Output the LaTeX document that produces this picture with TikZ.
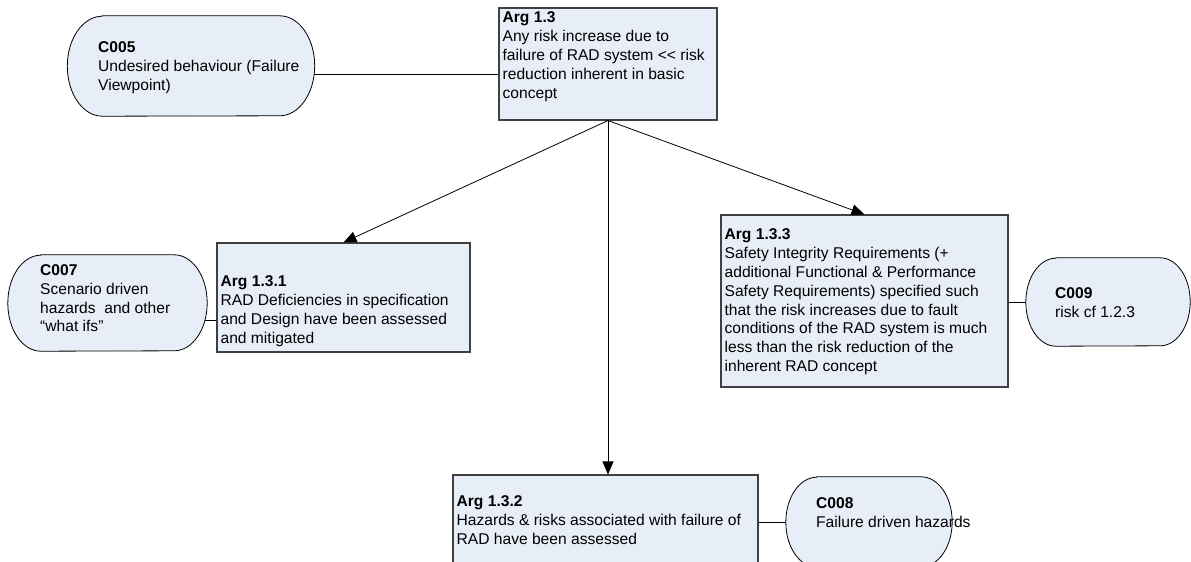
\documentclass[tikz,border=0pt]{standalone}
\usepackage{fontspec}
\setmainfont{Liberation Sans}
\usetikzlibrary{arrows.meta,calc}
\definecolor{gsnfill}{RGB}{232,238,247}
\definecolor{gsnedge}{RGB}{64,64,64}
% outline of a context node: straight top and bottom, half-ellipse ends
% #1 node name, #2 horizontal radius of the ends, #3 half height
\newcommand\ctxoutline[3]{%
  \draw[ctxline] ($(#1.north west)+(#2,0)$) -- ($(#1.north east)+(-#2,0)$)
    arc[start angle=-90, end angle=90, x radius=#2, y radius=#3]
    -- ($(#1.south west)+(#2,0)$)
    arc[start angle=90, end angle=270, x radius=#2, y radius=#3] -- cycle;}
\begin{document}
\begin{tikzpicture}[x=1pt,y=-1pt,
  argbox/.style={draw=gsnedge, fill=gsnfill, line width=1.1pt, rectangle, inner sep=0pt},
  ctxbox/.style={rectangle, inner sep=0pt},
  ctxline/.style={draw=black, fill=gsnfill, line width=0.8pt},
  gsntext/.style={anchor=north west, align=left, inner sep=0pt,
                  font=\fontsize{15.6}{18.8}\selectfont},
  link/.style={draw=black, line width=0.8pt},
  support/.style={link, -{Triangle[length=13pt,width=11pt]}}]
\useasboundingbox (0,0) rectangle (1191,562);
\clip (0,0) rectangle (1191,562);
\fill[white] (0,0) rectangle (1191,562);

% argument nodes
\node[argbox, minimum width=218pt, minimum height=112pt] (arg13) at (608,64) {};
\node[argbox, minimum width=253pt, minimum height=109pt] (arg131) at (343.5,297.5) {};
\node[argbox, minimum width=287pt, minimum height=172pt] (arg133) at (864.5,301) {};
\node[argbox, minimum width=305pt, minimum height=115pt] (arg132) at (605.5,532.5) {};

% context nodes (outlines are drawn below, over the link ends)
\node[ctxbox, minimum width=247pt, minimum height=100pt] (c005) at (191,66) {};
\node[ctxbox, minimum width=199pt, minimum height=96pt] (c007) at (107.5,303) {};
\node[ctxbox, minimum width=164pt, minimum height=88pt] (c009) at (1108,302) {};
\node[ctxbox, minimum width=166pt, minimum height=90pt] (c008) at (869,522) {};

% context links, starting inside the context outlines
\draw[link] (c005.-4 -| c005.center) -- (arg13.west |- c005.-4);
\draw[link] (c007.-10 -| c007.center) -- (arg131.west |- c007.-10);
\draw[link] (arg133.east |- c009.west) -- (c009.center);
\draw[link] (arg132.east |- c008.west) -- (c008.center);

\ctxoutline{c005}{35}{50}
\ctxoutline{c007}{33}{48}
\ctxoutline{c009}{30}{44}
\ctxoutline{c008}{31}{45}

% texts
\node[gsntext] (arg13t) at ($(arg13.north west)+(4,4.4)$)
  {\textbf{Arg 1.3}\\Any risk increase due to\\failure of RAD system <\kern0pt< risk\\reduction inherent in basic\\concept};
\node[gsntext] (arg131t) at ($(arg131.north west)+(4,33.4)$)
  {\textbf{Arg 1.3.1}\\RAD Deficiencies in specification\\and Design have been assessed\\and mitigated};
\node[gsntext] (arg133t) at ($(arg133.north west)+(4,14.4)$)
  {\textbf{Arg 1.3.3}\\Safety Integrity Requirements (+\\additional Functional \& Performance\\Safety Requirements) specified such\\that the risk increases due to fault\\conditions of the RAD system is much\\less than the risk reduction of the\\inherent RAD concept};
\node[gsntext] (arg132t) at ($(arg132.north west)+(4,21.4)$)
  {\textbf{Arg 1.3.2}\\Hazards \& risks associated with failure of\\RAD have been assessed};
\node[gsntext] (c005t) at (98,41.4)
  {\textbf{C005}\\Undesired behaviour (Failure\\Viewpoint)};
\node[gsntext] (c007t) at (40,264.4)
  {\textbf{C007}\\Scenario driven\\hazards~ and other\\“what ifs”};
\node[gsntext] (c009t) at (1055,287.4)
  {\textbf{C009}\\risk cf 1.2.3};
\node[gsntext] (c008t) at (816,497.4)
  {\textbf{C008}\\Failure driven hazards};

% support arrows
\draw[support] (arg13.south) -- (arg131.north);
\draw[support] (arg13.south) -- (arg13.south |- arg132.north);
\draw[support] (arg13.south) -- (arg133.north);
\end{tikzpicture}
\end{document}
